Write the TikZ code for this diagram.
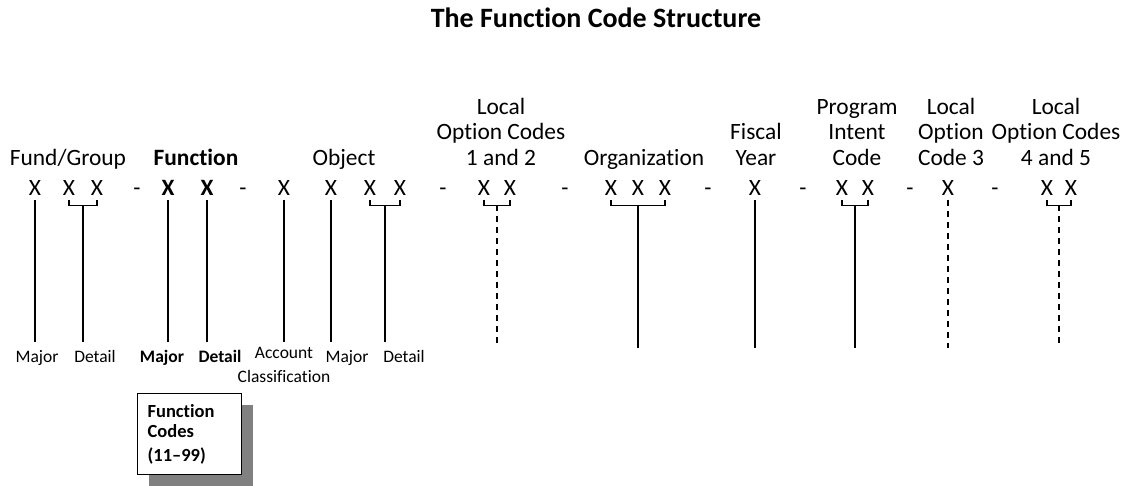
\documentclass[tikz,border=0pt]{standalone}
\usepackage{fontspec}
\setmainfont{Carlito}[Ligatures={NoCommon}]
\usetikzlibrary{calc,shadows}
\newcommand\stk[1]{\begin{tabular}[b]{@{}c@{}}#1\end{tabular}}
\begin{document}
\begin{tikzpicture}[x=1pt,y=-1pt,
  lbl/.style={inner sep=0pt, anchor=base, font=\fontsize{23.4}{25.5}\selectfont},
  lblb/.style={lbl, font=\fontsize{23.4}{25.5}\selectfont\bfseries},
  xch/.style={inner sep=0pt, anchor=base, font=\fontsize{23.4}{25.5}\selectfont},
  xbold/.style={xch, font=\fontsize{23.4}{25.5}\selectfont\bfseries},
  small/.style={inner sep=0pt, anchor=base, font=\fontsize{17.5}{24}\selectfont},
  smallb/.style={small, font=\fontsize{17.5}{24}\selectfont\bfseries},
  conn/.style={line width=1.4pt},
  opt/.style={conn, dash pattern=on 6pt off 5pt},
]
\useasboundingbox (0,0) rectangle (1127,485);
\coordinate (endL) at (0,342);
\coordinate (endR) at (0,348);

% title
\node[inner sep=0pt, anchor=base, font=\fontsize{28}{30}\selectfont\bfseries] (title) at (596,27) {The Function Code Structure};

% upper labels
\node[lbl] (tfg) at (68,165) {Fund/Group};
\node[lblb] (tfn) at (196,165) {Function};
\node[lbl] (tob) at (344,165) {Object};
\node[lbl] (tlo) at (501,165) {\stk{Local\\Option Codes\\1 and 2}};
\node[lbl] (tor) at (644,165) {Organization};
\node[lbl] (tfy) at (756,165) {\stk{Fiscal\\Year}};
\node[lbl] (tpi) at (857,165) {\stk{Program\\Intent\\Code}};
\node[lbl] (tl3) at (951,165) {\stk{Local\\Option\\Code 3}};
\node[lbl] (tl45) at (1056,165) {\stk{Local\\Option Codes\\4 and 5}};

% code characters
\node[xch] (fg1) at (35,195) {X};
\node[xch] (fg2) at (69,195) {X};
\node[xch] (fg3) at (97,195) {X};
\node[xch] (d1) at (137,195) {-};
\node[xbold] (fn1) at (168,195) {X};
\node[xbold] (fn2) at (207,195) {X};
\node[xch] (d2) at (243,195) {-};
\node[xch] (ob1) at (284,195) {X};
\node[xch] (ob2) at (331,195) {X};
\node[xch] (ob3) at (370,195) {X};
\node[xch] (ob4) at (400,195) {X};
\node[xch] (d3) at (443,195) {-};
\node[xch] (lo1) at (484,195) {X};
\node[xch] (lo2) at (510,195) {X};
\node[xch] (d4) at (565,195) {-};
\node[xch] (or1) at (611,195) {X};
\node[xch] (or2) at (638,195) {X};
\node[xch] (or3) at (665,195) {X};
\node[xch] (d5) at (708,195) {-};
\node[xch] (fy1) at (755,195) {X};
\node[xch] (d6) at (803,195) {-};
\node[xch] (pi1) at (842,195) {X};
\node[xch] (pi2) at (868,195) {X};
\node[xch] (d7) at (910,195) {-};
\node[xch] (lc3) at (948,195) {X};
\node[xch] (d8) at (995,195) {-};
\node[xch] (lc4) at (1047,195) {X};
\node[xch] (lc5) at (1071,195) {X};

% brackets
\draw[conn] ($(fg2.south)+(0,5)$) -- ++(0,5) -| ($(fg3.south)+(0,5)$);
\draw[conn] ($(ob3.south)+(0,5)$) -- ++(0,5) -| ($(ob4.south)+(0,5)$);
\draw[conn] ($(lo1.south)+(0,5)$) -- ++(0,5) -| ($(lo2.south)+(0,5)$);
\draw[conn] ($(or1.south)+(0,5)$) -- ++(0,5) -| ($(or3.south)+(0,5)$);
\draw[conn] ($(pi1.south)+(0,5)$) -- ++(0,5) -| ($(pi2.south)+(0,5)$);
\draw[conn] ($(lc4.south)+(0,5)$) -- ++(0,5) -| ($(lc5.south)+(0,5)$);
\coordinate (mfg) at ($(fg2.south)!0.5!(fg3.south)+(0,10)$);
\coordinate (mob) at ($(ob3.south)!0.5!(ob4.south)+(0,10)$);
\coordinate (mlo) at ($(lo1.south)!0.5!(lo2.south)+(0,10)$);
\coordinate (mor) at ($(or1.south)!0.5!(or3.south)+(0,10)$);
\coordinate (mpi) at ($(pi1.south)!0.5!(pi2.south)+(0,10)$);
\coordinate (mlc) at ($(lc4.south)!0.5!(lc5.south)+(0,10)$);

% vertical connectors
\draw[conn] ($(fg1.south)+(0,5)$) -- (fg1 |- endL);
\draw[conn] (mfg) -- (mfg |- endL);
\draw[conn] ($(fn1.south)+(0,5)$) -- (fn1 |- endL);
\draw[conn] ($(fn2.south)+(0,5)$) -- (fn2 |- endL);
\draw[conn] ($(ob1.south)+(0,5)$) -- (ob1 |- endL);
\draw[conn] ($(ob2.south)+(0,5)$) -- (ob2 |- endL);
\draw[conn] (mob) -- (mob |- endL);
\draw[opt] (mlo) -- (mlo |- endR);
\draw[conn] (mor) -- (mor |- endR);
\draw[conn] ($(fy1.south)+(0,5)$) -- (fy1 |- endR);
\draw[conn] (mpi) -- (mpi |- endR);
\draw[opt] ($(lc3.south)+(0,5)$) -- (lc3 |- endR);
\draw[opt] (mlc) -- (mlc |- endR);

% lower labels
\node[small] (b1) at (37,362) {Major};
\node[small] (b2) at (95,362) {Detail};
\node[smallb] (b3) at (162,362) {Major};
\node[smallb] (b4) at (220,362) {Detail};
\node[small] (b5) at (284,382) {\stk{Account\\Classification}};
\node[small] (b6) at (347,362) {Major};
\node[small] (b7) at (404,362) {Detail};

% function codes box
\node[draw, line width=1.2pt, fill=white, anchor=north west,
      minimum width=104pt, minimum height=81pt, text width=84pt,
      inner xsep=10pt, align=left,
      font=\fontsize{18.5}{20.5}\selectfont\bfseries,
      drop shadow={shadow xshift=11pt, shadow yshift=-11pt, fill=black!50, opacity=1}]
      (fcbox) at (137,393) {Function\\Codes\\[3pt](11--99)};
\end{tikzpicture}
\end{document}
